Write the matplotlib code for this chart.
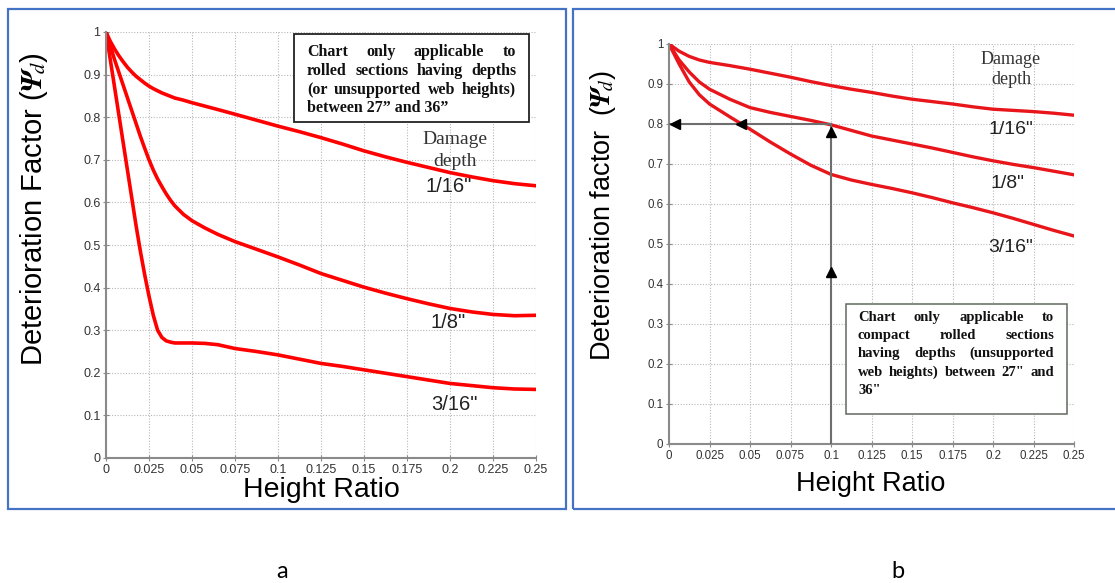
import matplotlib
matplotlib.use("Agg")
import matplotlib.pyplot as plt
from matplotlib.patches import Rectangle

plt.rcParams['font.family'] = ['Liberation Sans', 'DejaVu Sans']
plt.rcParams['mathtext.fontset'] = 'stix'

# ---- data ----
# chart a
ratio_a = [0, 0.0025, 0.005, 0.0075, 0.01, 0.0125, 0.015, 0.0175, 0.02, 0.0225, 0.025,
           0.0275, 0.03, 0.0325, 0.035, 0.0375, 0.04, 0.045, 0.05, 0.0575, 0.065, 0.075,
           0.0875, 0.1, 0.1125, 0.125, 0.1375, 0.15, 0.1625, 0.175, 0.1875, 0.2, 0.2125,
           0.225, 0.2375, 0.25]
a_1_16 = [1.0, 0.978, 0.96, 0.944, 0.93, 0.917, 0.906, 0.896, 0.888, 0.88, 0.873,
          0.867, 0.862, 0.857, 0.853, 0.849, 0.845, 0.84, 0.834, 0.826, 0.818, 0.807,
          0.793, 0.779, 0.766, 0.752, 0.737, 0.721, 0.707, 0.694, 0.682, 0.67, 0.66,
          0.651, 0.644, 0.639]
a_1_8 = [1.0, 0.967, 0.935, 0.905, 0.875, 0.845, 0.815, 0.785, 0.755, 0.727, 0.70,
         0.676, 0.655, 0.637, 0.62, 0.605, 0.592, 0.572, 0.557, 0.54, 0.525, 0.508,
         0.49, 0.472, 0.453, 0.433, 0.417, 0.401, 0.387, 0.374, 0.362, 0.351, 0.343,
         0.337, 0.334, 0.335]
a_3_16 = [1.0, 0.935, 0.87, 0.805, 0.74, 0.675, 0.61, 0.545, 0.485, 0.43, 0.38,
          0.335, 0.30, 0.283, 0.275, 0.272, 0.27, 0.27, 0.27, 0.269, 0.266, 0.257,
          0.25, 0.242, 0.232, 0.222, 0.215, 0.207, 0.199, 0.191, 0.183, 0.175, 0.17,
          0.165, 0.162, 0.161]

# chart b
ratio_b = [0, 0.00625, 0.0125, 0.01875, 0.025, 0.0375, 0.05, 0.0625, 0.075, 0.0875, 0.1,
           0.1125, 0.125, 0.1375, 0.15, 0.1625, 0.175, 0.1875, 0.2, 0.2125, 0.225, 0.2375, 0.25]
b_1_16 = [1.0, 0.982, 0.969, 0.96, 0.954, 0.946, 0.937, 0.927, 0.917, 0.906, 0.896,
          0.887, 0.879, 0.87, 0.862, 0.856, 0.85, 0.843, 0.837, 0.834, 0.831, 0.827, 0.822]
b_1_8 = [1.0, 0.96, 0.93, 0.905, 0.887, 0.862, 0.841, 0.829, 0.819, 0.809, 0.798,
         0.784, 0.77, 0.76, 0.75, 0.74, 0.729, 0.718, 0.708, 0.699, 0.691, 0.682, 0.673]
b_3_16 = [1.0, 0.95, 0.905, 0.873, 0.85, 0.818, 0.787, 0.755, 0.725, 0.697, 0.674,
          0.66, 0.649, 0.639, 0.628, 0.616, 0.603, 0.591, 0.578, 0.564, 0.549, 0.534, 0.52]

# worked example on chart b: ratio 0.1 read up to 1/8" curve, then across
example_ratio = 0.1
example_factor = 0.8
example_cross = 0.0445   # where the read-across meets the 3/16" curve

depth_labels = ['1/16"', '1/8"', '3/16"']
x_ticks = [0, 0.025, 0.05, 0.075, 0.1, 0.125, 0.15, 0.175, 0.2, 0.225, 0.25]
x_tick_labels = ['0', '0.025', '0.05', '0.075', '0.1', '0.125', '0.15', '0.175', '0.2', '0.225', '0.25']
y_ticks = [0, 0.1, 0.2, 0.3, 0.4, 0.5, 0.6, 0.7, 0.8, 0.9, 1]
y_tick_labels = ['0', '0.1', '0.2', '0.3', '0.4', '0.5', '0.6', '0.7', '0.8', '0.9', '1']

note_a = ['Chart only applicable to',
          'rolled sections having depths',
          '(or unsupported web heights)',
          'between 27\u201d and 36\u201d']
note_b = ['Chart only applicable to',
          'compact rolled sections',
          'having depths (unsupported',
          'web heights) between 27" and',
          '36"']

W, H = 1115, 583
fig = plt.figure(figsize=(W / 100, H / 100), dpi=100)
renderer = fig.canvas.get_renderer()


def fx(px):
    return px / W


def fy(py):
    return 1 - py / H


def justified(lines, x0, x1, ys, size):
    # place words so every line but the last fills the box width
    shift = 0.33 * size * 100 / 72   # from line middle down to the baseline, px
    for i, (line, yp) in enumerate(zip(lines, ys)):
        y = fy(yp + shift)
        words = line.split()
        if i == len(lines) - 1:
            fig.text(fx(x0), y, line, family='Liberation Serif', weight='bold',
                     size=size, va='baseline', ha='left', color='#111111')
            continue
        texts = [fig.text(0, y, w, family='Liberation Serif', weight='bold', size=size,
                          va='baseline', ha='left', color='#111111') for w in words]
        widths = [t.get_window_extent(renderer).width for t in texts]
        gap = (x1 - x0 - sum(widths)) / (len(words) - 1)
        pos = x0
        for t, wd in zip(texts, widths):
            t.set_x(fx(pos))
            pos += wd + gap


def style_axes(ax, tick_size):
    ax.set_xlim(0, 0.25)
    ax.set_ylim(0, 1)
    ax.set_xticks(x_ticks)
    ax.set_xticklabels(x_tick_labels)
    ax.set_yticks(y_ticks)
    ax.set_yticklabels(y_tick_labels)
    ax.grid(True, linestyle=(0, (1, 1.5)), color='#b8b8b8', linewidth=0.8)
    for s in ['top', 'right']:
        ax.spines[s].set_visible(False)
    for s in ['left', 'bottom']:
        ax.spines[s].set_color('#8a8a8a')
        ax.spines[s].set_linewidth(1.5)
    ax.tick_params(direction='inout', length=4, color='#8a8a8a', labelsize=tick_size,
                   labelcolor='#333333', pad=2)
    ax.set_axisbelow(True)


# ---- panel frames ----
fig.add_artist(Rectangle((fx(8), fy(509)), fx(566 - 8), (509 - 9) / H,
                         transform=fig.transFigure, fill=False, edgecolor='#4472C4', lw=1.6))
fig.add_artist(Rectangle((fx(573), fy(509)), fx(1120 - 573), (509 - 9) / H,
                         transform=fig.transFigure, fill=False, edgecolor='#4472C4', lw=1.6))

# ---- chart a ----
ax1 = fig.add_axes([fx(106), fy(458), fx(536 - 106), (458 - 32) / H])
style_axes(ax1, 9)
for vals in [a_1_16, a_1_8, a_3_16]:
    ax1.plot(ratio_a, vals, color='#ff0000', lw=2.6, solid_capstyle='round')
fig.text(fx(321), fy(490), 'Height Ratio', size=20.5, ha='center', va='center')
fig.text(fx(34), fy(209), r'Deterioration Factor ($\mathbfit{\Psi}_{\!d}$)', size=21,
         rotation=90, ha='center', va='center')
for lbl, (px, py) in zip(depth_labels, [(449, 186), (448, 323), (454, 404)]):
    fig.text(fx(px), fy(py), lbl, size=14.5, ha='center', va='center', color='#222222')
fig.text(fx(455), fy(139), 'Damage', family='Liberation Serif', size=14,
         ha='center', va='center', color='#333333')
fig.text(fx(455), fy(162), 'depth', family='Liberation Serif', size=14,
         ha='center', va='center', color='#333333')
fig.add_artist(Rectangle((fx(294), fy(122)), fx(529 - 294), (122 - 34) / H,
                         transform=fig.transFigure, facecolor='white', edgecolor='#222222', lw=1.3))
justified(note_a, 307, 516, [51, 70, 89, 107], 11.5)

# ---- chart b ----
ax2 = fig.add_axes([fx(669), fy(444), fx(1074 - 669), (444 - 44) / H])
style_axes(ax2, 8.3)
for vals in [b_1_16, b_1_8, b_3_16]:
    ax2.plot(ratio_b, vals, color='#e8161b', lw=2.4, solid_capstyle='round')
arrow_c = '#6e6e6e'
ax2.plot([example_ratio, example_ratio], [0, example_factor], color=arrow_c, lw=1.5, zorder=3)
ax2.plot([0, example_ratio], [example_factor, example_factor], color=arrow_c, lw=1.5, zorder=3)
ax2.plot([example_ratio, example_ratio], [example_factor - 0.02, 0.43],
         ls='none', marker='^', ms=7, color='black', zorder=4)
ax2.plot([example_cross, 0.004], [example_factor, example_factor],
         ls='none', marker='<', ms=7, color='black', zorder=4)
fig.text(fx(871), fy(484), 'Height Ratio', size=19.5, ha='center', va='center')
fig.text(fx(603), fy(216), r'Deterioration factor  ($\mathbfit{\Psi}_{\!d}$)', size=19.5,
         rotation=90, ha='center', va='center')
for lbl, (px, py) in zip(depth_labels, [(1011, 129), (1007, 183), (1011, 248)]):
    fig.text(fx(px), fy(py), lbl, size=14, ha='center', va='center', color='#222222')
fig.text(fx(1011), fy(60), 'Damage', family='Liberation Serif', size=13,
         ha='center', va='center', color='#333333')
fig.text(fx(1011), fy(80), 'depth', family='Liberation Serif', size=13,
         ha='center', va='center', color='#333333')
fig.add_artist(Rectangle((fx(846), fy(414)), fx(1067 - 846), (414 - 304) / H,
                         transform=fig.transFigure, facecolor='white', edgecolor='#5f6a5f', lw=1.1))
justified(note_b, 858, 1054, [316, 334, 352, 371, 389], 10.5)

# ---- panel captions ----
fig.text(fx(282), fy(571), 'a', family='Lato', size=17, ha='center', va='center')
fig.text(fx(898), fy(571), 'b', family='Lato', size=17, ha='center', va='center')

fig.savefig('out.png', dpi=100)
